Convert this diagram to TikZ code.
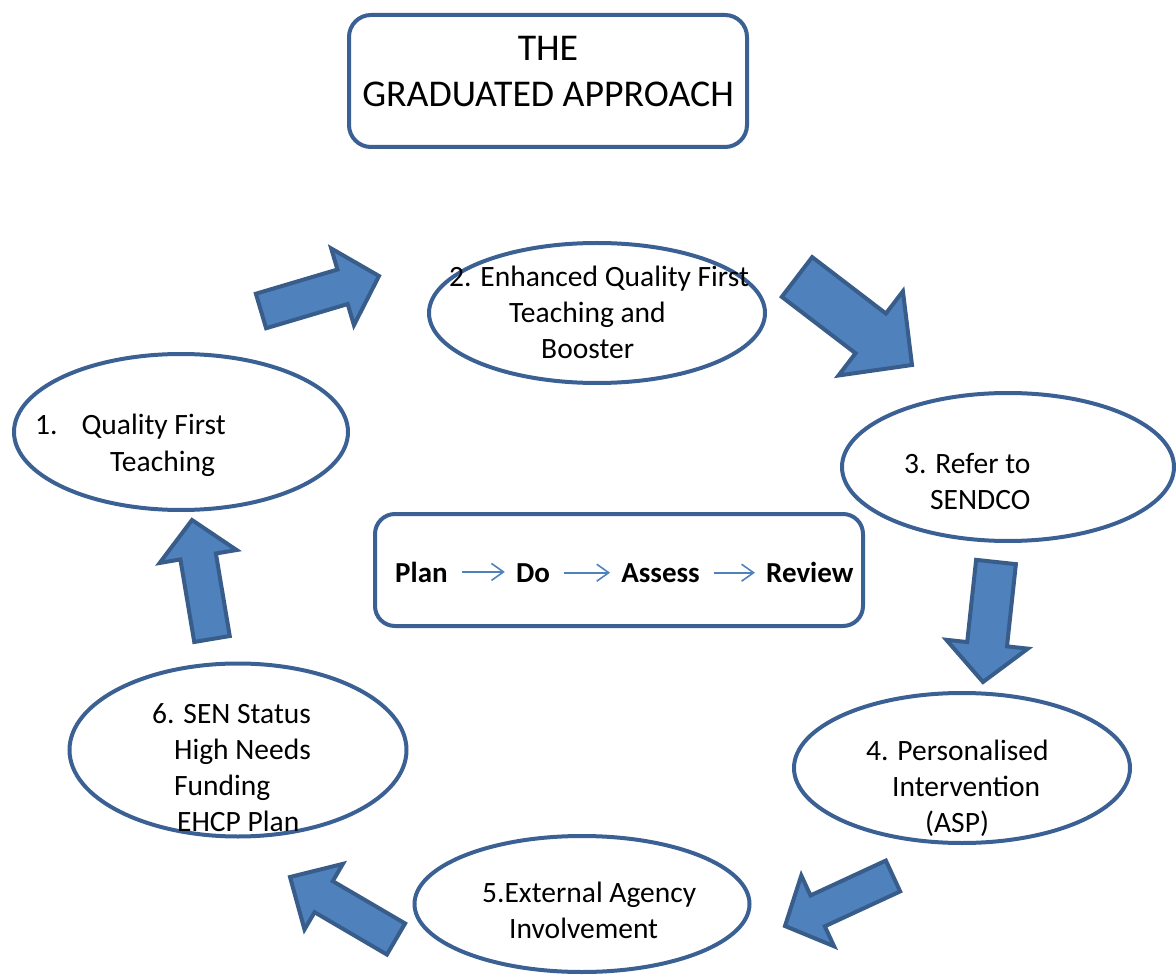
\documentclass[tikz,border=0pt]{standalone}
\usepackage{fontspec}
\setmainfont{Carlito}
\usetikzlibrary{calc,positioning,arrows.meta,shapes.geometric}

\definecolor{edgeblue}{HTML}{3B6094}
\definecolor{fillblue}{HTML}{4F81BD}
\definecolor{arrowedge}{HTML}{385D8A}

\tikzset{
  stage/.style={ellipse, draw=edgeblue, line width=4pt, inner sep=0pt},
  stagetext/.style={align=left, anchor=base west, inner sep=0pt, font=\fontsize{29.5}{36}\selectfont},
  boxed/.style={draw=edgeblue, line width=4pt, rounded corners=22pt, inner sep=0pt},
  bigarrow/.style={draw=arrowedge, fill=fillblue, line width=4pt},
  word/.style={inner sep=0pt, font=\bfseries\fontsize{29}{35}\selectfont},
  thinarrow/.style={draw=fillblue, line width=1.6pt, -{Straight Barb[length=12pt,width=17pt]}, shorten <=14pt, shorten >=11pt},
}

% from, to, shaft half width, head half width, head length
\newcommand{\blockarrow}[5]{%
  \coordinate (hb) at ($(#2)!#5!(#1)$);
  \draw[bigarrow] ($(#1)!#3!90:(#2)$) -- ($(hb)!#3!90:(#2)$) -- ($(hb)!#4!90:(#2)$) -- (#2)
    -- ($(hb)!#4!-90:(#2)$) -- ($(hb)!#3!-90:(#2)$) -- ($(#1)!#3!-90:(#2)$) -- cycle;}

\begin{document}
\begin{tikzpicture}[x=1pt,y=-1pt]
  \useasboundingbox (0,0) rectangle (1176,976);

  % title
  \node[boxed, minimum width=398pt, minimum height=132pt] (title) at (548,81) {};
  \node[align=center, anchor=base, inner sep=0pt, font=\fontsize{37.8}{46}\selectfont] (titletext) at (548,107) {THE\\GRADUATED APPROACH};

  % stages
  \node[stage, minimum width=334pt, minimum height=156pt] (s1) at (181,432) {};
  \node[stage, minimum width=336pt, minimum height=140pt] (s2) at (597,313) {};
  \node[stage, minimum width=332pt, minimum height=148pt] (s3) at (1008,467) {};
  \node[stage, minimum width=336pt, minimum height=150pt] (s4) at (962,768) {};
  \node[stage, minimum width=335pt, minimum height=136pt] (s5) at (582,904) {};
  \node[stage, minimum width=337pt, minimum height=173pt] (s6) at (238,750) {};

  % texts, placed by the baseline of their last line
  \node[stagetext] (t1) at (35,471) {1.\hspace*{24pt}Quality First\\\hspace*{75pt}Teaching};
  \node[stagetext] (t2) at (449,359) {2. Enhanced Quality First\\\hspace*{60pt}Teaching and\\\hspace*{92pt}Booster};
  \node[stagetext] (t3) at (904,509) {3. Refer to\\\hspace*{26pt}SENDCO};
  \node[stagetext] (t4) at (866,832) {4. Personalised\\\hspace*{26pt}Intervention\\\hspace*{59pt}(ASP)};
  \node[stagetext] (t5) at (482,938) {5.External Agency\\\hspace*{27pt}Involvement};
  \node[stagetext] (t6) at (152,831) {6. SEN Status\\\hspace*{22pt}High Needs\\\hspace*{22pt}Funding\\\hspace*{25pt}EHCP Plan};

  % arrows between stages
  \coordinate (a1s) at (261,311);  \coordinate (a1e) at (379,276);
  \coordinate (a2s) at (797,277);  \coordinate (a2e) at (912,365);
  \coordinate (a3s) at (996,562);  \coordinate (a3e) at (983,682);
  \coordinate (a4s) at (893,876);  \coordinate (a4e) at (785,926);
  \coordinate (a5s) at (396,939);  \coordinate (a5e) at (290,877);
  \coordinate (a6s) at (212,639);  \coordinate (a6e) at (192,520);
  \blockarrow{a1s}{a1e}{18pt}{40pt}{38pt}
  \blockarrow{a2s}{a2e}{25pt}{53pt}{52pt}
  \blockarrow{a3s}{a3e}{20pt}{41pt}{38pt}
  \blockarrow{a4s}{a4e}{17pt}{39pt}{36pt}
  \blockarrow{a5s}{a5e}{18pt}{38pt}{39pt}
  \blockarrow{a6s}{a6e}{18pt}{39pt}{37pt}

  % plan do assess review
  \node[boxed, rounded corners=20pt, minimum width=488pt, minimum height=112pt] (cyclebox) at (619,570) {};
  \node[word, anchor=base west] (plan) at (395,582) {Plan};
  \node[word, base right=68pt of plan] (do) {Do};
  \node[word, base right=71pt of do] (assess) {Assess};
  \node[word, base right=66pt of assess] (review) {Review};
  \draw[thinarrow] (plan.east) -- (plan.east -| do.west);
  \draw[thinarrow] (do.east) -- (do.east -| assess.west);
  \draw[thinarrow] (assess.east) -- (assess.east -| review.west);
\end{tikzpicture}
\end{document}
